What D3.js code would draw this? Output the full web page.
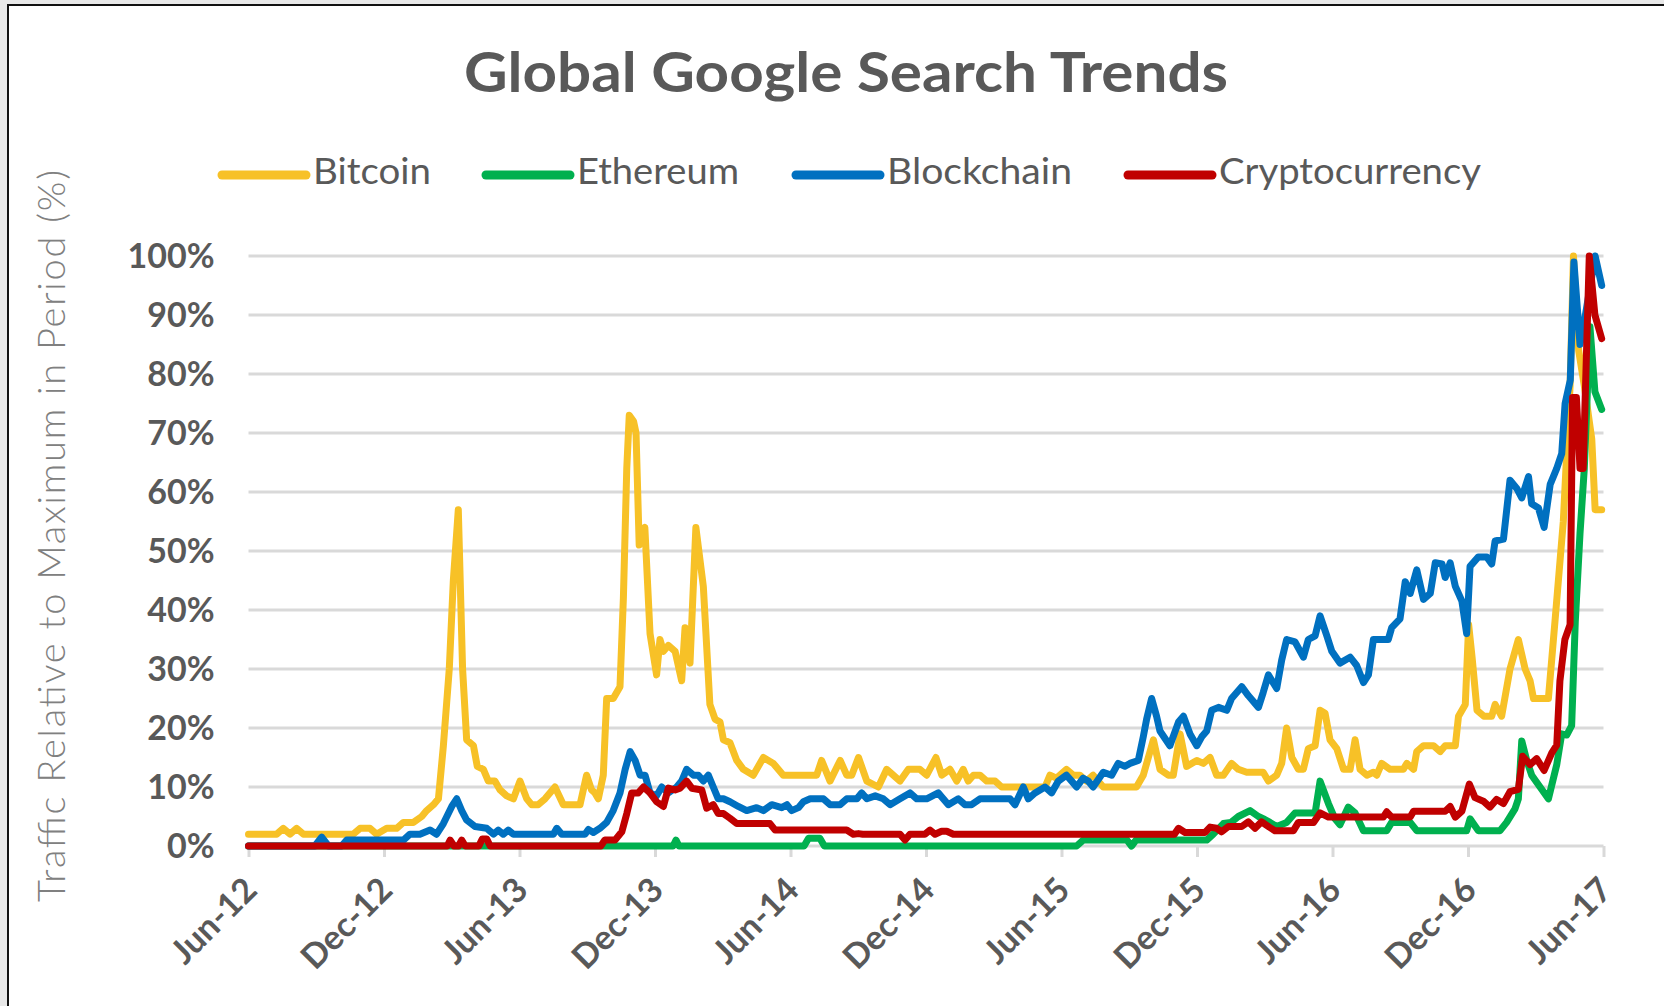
<!DOCTYPE html>
<html>
<head>
<meta charset="utf-8">
<script src="https://cdn.jsdelivr.net/npm/d3@7"></script>
<style>
  html, body { margin: 0; padding: 0; background: #e8e8e8; }
  svg { display: block; }
</style>
</head>
<body>
<svg id="chart" width="1664" height="1006"></svg>
<script>
// ---------------- DATA ----------------
// x = months since Jun-2012, y = % of maximum search traffic in period
const xTickLabels = ["Jun-12","Dec-12","Jun-13","Dec-13","Jun-14","Dec-14","Jun-15","Dec-15","Jun-16","Dec-16","Jun-17"];
const xTickMonths = [0,6,12,18,24,30,36,42,48,54,60];
const yTicks = [0,10,20,30,40,50,60,70,80,90,100];
const seriesNames = ["Bitcoin","Ethereum","Blockchain","Cryptocurrency"];
const seriesColors = ["#F7C127","#00B04F","#0070C0","#C00000"];

const bitcoin = [[0,2],[1.25,2],[1.54,3],[1.84,2],[2.13,3],[2.43,2],[4.64,2],[4.94,3],[5.38,3],[5.67,2],[6.12,3],[6.56,3],[6.86,4],[7.3,4],[7.67,5],[7.89,6],[8.19,7],[8.41,8],[8.63,17],[8.89,30],[9.07,45],[9.29,57],[9.48,30],[9.66,18],[9.96,17],[10.13,13.5],[10.4,13],[10.62,11],[10.91,11],[11.14,9.5],[11.43,8.5],[11.73,8],[12.02,11],[12.32,8],[12.54,7],[12.83,7],[13.13,8],[13.57,10],[13.94,7],[14.68,7],[14.97,12],[15.19,9.5],[15.34,9],[15.49,8],[15.71,12],[15.86,25],[16.15,25],[16.45,27],[16.6,42],[16.75,64],[16.86,73],[17.05,72],[17.16,70],[17.3,51],[17.55,54],[17.78,36],[18.07,29],[18.22,35],[18.37,33],[18.59,34],[18.89,33],[19.18,28],[19.33,37],[19.55,31],[19.81,54],[20.14,44],[20.43,24],[20.66,21.5],[20.88,21],[21.03,18],[21.32,17.5],[21.62,14.5],[21.91,13],[22.35,12],[22.8,15],[23.24,14],[23.68,12],[25.16,12],[25.38,14.5],[25.75,11],[26.2,14.5],[26.49,12],[26.71,12],[27.01,15],[27.38,11],[27.89,10],[28.26,13],[28.55,12],[28.85,11],[29.22,13],[29.44,13],[29.73,13],[30.03,12],[30.44,15],[30.7,12],[31.06,13],[31.36,11],[31.65,13],[31.87,11],[32.1,12],[32.39,12],[32.69,11],[33.06,11],[33.35,10],[35.27,10],[35.49,12],[35.78,11.5],[36.22,13],[36.52,12],[36.81,12],[37.1,11],[37.4,12],[37.85,10],[39.32,10],[39.62,12],[39.92,16],[40.07,18],[40.36,13],[40.73,12],[40.95,12],[41.25,19],[41.54,13.5],[41.99,14.5],[42.28,14],[42.58,15],[42.87,12],[43.17,12],[43.53,14],[43.83,13],[44.2,12.5],[44.93,12.5],[45.16,11],[45.53,12],[45.75,14],[45.97,20],[46.2,15],[46.49,13],[46.71,13],[46.93,16.5],[47.23,17],[47.45,23],[47.67,22.5],[47.89,18],[48.19,16.5],[48.49,13],[48.78,13],[49.0,18],[49.22,13],[49.52,12],[49.81,12.5],[49.96,12],[50.18,14],[50.55,13],[51.14,13],[51.29,14],[51.59,13],[51.73,16],[52.03,17],[52.47,17],[52.77,16],[52.99,17],[53.44,17],[53.58,22],[53.88,24],[54.03,37.5],[54.18,32],[54.4,23],[54.7,22],[55.05,22],[55.2,24],[55.49,22],[55.86,30],[56.23,35],[56.53,30],[56.75,28],[56.9,25],[57.56,25],[57.85,38],[58.22,55],[58.52,78],[58.67,100],[58.9,84],[59.15,78],[59.48,69],[59.63,57],[59.92,57]];

const ethereum = [[0,0],[18.8,0],[18.93,1],[19.06,0],[24.6,0],[24.8,1.3],[25.3,1.3],[25.5,0],[36.67,0],[36.96,1],[38.9,1],[39.1,0],[39.3,1],[42.43,1],[42.72,2],[43.17,3.8],[43.5,4],[43.83,5],[44.35,6],[44.72,5],[45.0,4.5],[45.23,4],[45.53,3.3],[45.97,4],[46.34,5.6],[47.23,5.6],[47.45,11],[47.82,7.2],[48.11,4.6],[48.33,3.6],[48.7,6.6],[49.0,5.6],[49.37,2.6],[50.4,2.6],[50.62,4],[51.44,4],[51.73,2.6],[53.94,2.6],[54.09,4.6],[54.46,2.6],[55.42,2.6],[55.71,4],[56.08,6.3],[56.23,8],[56.38,17.8],[56.6,14.5],[56.82,12],[57.19,10],[57.56,8],[57.93,13.8],[58.15,19],[58.37,18.8],[58.59,20.4],[58.75,38],[58.96,53],[59.15,64],[59.4,88],[59.62,77],[59.92,74]];

const blockchain = [[0,0],[2.94,0],[3.24,1.5],[3.54,0],[4.12,0],[4.35,1],[6.86,1],[7.15,2],[7.59,2],[8.04,2.7],[8.33,2],[8.63,3.8],[9.0,6.7],[9.22,8],[9.44,6],[9.66,4.4],[10.03,3.3],[10.55,3],[10.85,2],[11.06,2.7],[11.28,2],[11.5,2.7],[11.73,2],[13.5,2],[13.65,3],[13.87,2],[14.9,2],[15.05,2.8],[15.27,2.3],[15.56,3],[15.86,4],[16.15,6],[16.45,9],[16.68,13],[16.9,16],[17.12,14.5],[17.34,12],[17.56,12],[17.78,9],[18.07,8.5],[18.3,10],[18.59,9],[18.96,10],[19.18,11],[19.4,13],[19.7,12],[19.92,12],[20.14,11],[20.36,12],[20.58,10],[20.8,8],[21.03,8],[21.32,7.5],[21.69,6.7],[22.06,6],[22.5,6.5],[22.8,6],[23.17,7],[23.61,6.5],[23.84,7],[24.05,6],[24.35,6.5],[24.57,7.5],[24.87,8],[25.46,8],[25.75,7],[26.2,7],[26.49,8],[26.94,8],[27.15,9],[27.38,8],[27.75,8.5],[28.11,8],[28.41,7],[28.85,8],[29.29,9],[29.59,8],[30.03,8],[30.54,9],[30.99,7],[31.43,8],[31.72,7],[32.02,7],[32.39,8],[33.72,8],[33.94,7],[34.31,10],[34.53,8],[34.83,9],[35.27,10],[35.56,9],[35.86,11],[36.22,12],[36.45,11],[36.67,10],[36.96,11.5],[37.18,11],[37.4,10],[37.85,12.5],[38.22,12],[38.51,14],[38.81,13.5],[39.03,14],[39.4,14.5],[39.62,18.5],[39.77,21.5],[39.99,25],[40.21,22],[40.36,19.5],[40.8,17],[41.18,21],[41.4,22],[41.69,19],[41.99,17],[42.21,18.5],[42.43,19.5],[42.65,23],[42.95,23.5],[43.32,23],[43.53,25],[43.98,27],[44.27,25.5],[44.72,23.5],[44.93,26],[45.16,29],[45.53,26.7],[45.75,31.5],[45.97,35],[46.34,34.6],[46.71,32],[46.93,35],[47.23,35.6],[47.45,39],[47.75,35.6],[47.97,33],[48.33,31],[48.78,32],[49.07,30.6],[49.37,27.7],[49.59,29],[49.81,35],[50.47,35],[50.62,37],[50.99,38.5],[51.22,44.8],[51.44,42.8],[51.73,46.8],[52.03,41.8],[52.33,42.8],[52.55,48],[52.85,47.8],[52.99,45.5],[53.21,48],[53.44,44],[53.73,41.5],[53.94,36],[54.09,47.4],[54.46,49],[54.83,49],[55.05,47.8],[55.2,51.7],[55.57,52],[55.86,62],[56.16,60.6],[56.38,59],[56.68,62.6],[56.82,58],[57.12,57.3],[57.37,54],[57.64,61.3],[57.93,64],[58.15,66.5],[58.3,75],[58.53,79],[58.69,99],[58.96,85],[59.2,90],[59.63,100],[59.92,95]];

const cryptocurrency = [[0,0],[8.8,0],[8.93,1],[9.1,0],[9.3,0],[9.44,1],[9.6,0],[10.2,0],[10.35,1.2],[10.55,1.2],[10.7,0],[15.6,0],[15.78,1],[16.23,1],[16.53,2.4],[16.75,5.5],[16.97,9],[17.26,9],[17.49,10],[17.78,9],[18.07,7.5],[18.37,6.7],[18.59,9.8],[18.89,9.5],[19.11,9.8],[19.4,11],[19.63,9.8],[20.07,9.5],[20.29,6.4],[20.58,7],[20.8,5.5],[21.03,5.5],[21.32,4.7],[21.62,3.8],[23.09,3.8],[23.32,2.7],[26.49,2.7],[26.78,2],[27.01,2.1],[27.2,2],[28.85,2],[29.07,1],[29.29,2],[29.95,2],[30.18,2.7],[30.4,2],[30.69,2.5],[30.92,2.5],[31.21,2],[41.0,2],[41.18,3],[41.47,2.3],[42.36,2.3],[42.58,3.2],[42.87,3],[43.09,2.4],[43.39,3.3],[43.98,3.3],[44.27,4.1],[44.57,3],[44.86,4.1],[45.2,3.2],[45.45,2.6],[46.27,2.6],[46.49,4],[47.16,4],[47.45,5.6],[47.82,4.9],[50.25,4.9],[50.4,5.8],[50.62,4.9],[51.44,4.9],[51.59,5.9],[52.99,5.9],[53.21,6.7],[53.44,4.9],[53.73,5.9],[54.06,10.5],[54.31,8.2],[54.68,7.6],[54.97,6.6],[55.27,7.9],[55.57,7.2],[55.86,9.2],[56.23,9.6],[56.42,15.2],[56.75,13.8],[57.04,14.8],[57.37,12.8],[57.71,15.8],[57.93,17.1],[58.07,28],[58.29,35],[58.52,37.5],[58.63,76],[58.8,76],[58.96,64],[59.1,64],[59.37,100],[59.62,90],[59.92,86]];

const seriesData = [bitcoin, ethereum, blockchain, cryptocurrency];

// ---------------- CHART ----------------
const W = 1664, H = 1006;
const svg = d3.select("#chart");
const FONT = "Lato, 'Open Sans', sans-serif";
const TEXT = "#595959";

// frame
svg.append("rect").attr("x",0).attr("y",0).attr("width",W).attr("height",H).attr("fill","#e8e8e8");
svg.append("rect").attr("x",8).attr("y",5).attr("width",W-8).attr("height",H-5).attr("fill","#ffffff");
svg.append("line").attr("x1",7).attr("x2",W).attr("y1",5).attr("y2",5).attr("stroke","#111").attr("stroke-width",2);
svg.append("line").attr("x1",8).attr("x2",8).attr("y1",4).attr("y2",H).attr("stroke","#111").attr("stroke-width",2);

const x = d3.scaleLinear().domain([0,60]).range([248.5,1603.5]);
const y = d3.scaleLinear().domain([0,100]).range([846,256]);

// gridlines
svg.append("g").selectAll("line").data(yTicks).join("line")
  .attr("x1", x(0)).attr("x2", x(60))
  .attr("y1", d => y(d)).attr("y2", d => y(d))
  .attr("stroke", "#d9d9d9").attr("stroke-width", 3);

// y axis labels
const yAxis = svg.append("g").attr("transform", `translate(${x(0)},0)`)
  .call(d3.axisLeft(y).tickValues(yTicks).tickFormat(d => d + "%").tickSize(0).tickPadding(34));
yAxis.select(".domain").remove();
yAxis.selectAll("text").attr("font-family", FONT).attr("font-weight", 700)
  .attr("font-size", 34).attr("fill", TEXT).attr("dy", "0.33em");

// x axis ticks + labels
const xAxis = svg.append("g").attr("transform", `translate(0,${y(0)})`)
  .call(d3.axisBottom(x).tickValues(xTickMonths).tickFormat((d,i) => xTickLabels[i]).tickSize(11).tickSizeOuter(0));
xAxis.select(".domain").remove();
xAxis.selectAll(".tick line").attr("stroke", "#d9d9d9").attr("stroke-width", 3);
xAxis.selectAll(".tick text")
  .attr("font-family", FONT).attr("font-weight", 700).attr("font-size", 34).attr("fill", TEXT)
  .attr("text-anchor", "end").attr("dy", null).attr("y", null)
  .attr("transform", "translate(10,46) rotate(-45)");

// series lines
const line = d3.line().x(d => x(d[0])).y(d => y(d[1]));
svg.append("g").selectAll("path").data(seriesData).join("path")
  .attr("d", line)
  .attr("fill", "none")
  .attr("stroke", (d,i) => seriesColors[i])
  .attr("stroke-width", 7)
  .attr("stroke-linejoin", "round")
  .attr("stroke-linecap", "round");

// title
svg.append("text").attr("x", 846).attr("y", 92).attr("text-anchor", "middle")
  .attr("font-family", FONT).attr("font-weight", 700).attr("font-size", 55).attr("fill", TEXT)
  .attr("textLength", 764).attr("lengthAdjust", "spacingAndGlyphs")
  .text("Global Google Search Trends");

// legend
const legendStarts = [222, 486, 796, 1128];
const legendTextWidths = [118, 162, 185, 262];
const lg = svg.append("g").selectAll("g").data(seriesNames).join("g")
  .attr("transform", (d,i) => `translate(${legendStarts[i]},175)`);
lg.append("line").attr("x1", 0).attr("x2", 84).attr("y1", 0).attr("y2", 0)
  .attr("stroke", (d,i) => seriesColors[i]).attr("stroke-width", 9).attr("stroke-linecap", "round");
lg.append("text").attr("x", 91).attr("y", 9)
  .attr("font-family", FONT).attr("font-size", 37).attr("fill", TEXT)
  .attr("textLength", (d,i) => legendTextWidths[i]).attr("lengthAdjust", "spacingAndGlyphs")
  .text(d => d);

// y axis title
svg.append("text").attr("transform", "translate(65,536) rotate(-90)").attr("text-anchor", "middle")
  .attr("font-family", FONT).attr("font-weight", 300).attr("font-size", 38).attr("fill", "#808080")
  .attr("textLength", 732).attr("lengthAdjust", "spacing")
  .text("Traffic Relative to Maximum in Period (%)");
</script>
</body>
</html>
